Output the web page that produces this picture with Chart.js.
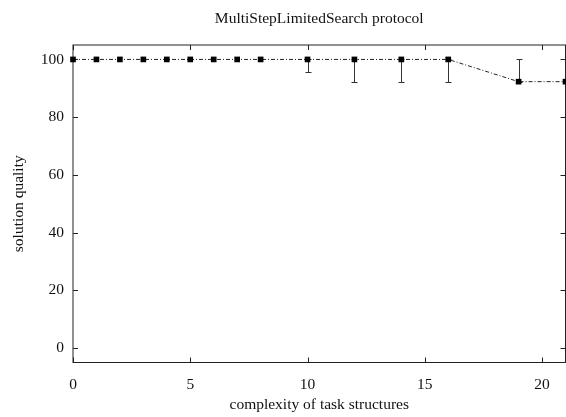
<!DOCTYPE html>
<html>
<head>
<meta charset="utf-8">
<script src="https://cdn.jsdelivr.net/npm/chart.js@4/dist/chart.umd.min.js"></script>
<style>
  html, body { margin: 0; padding: 0; background: #fff; }
  #wrap { width: 566px; height: 417px; }
</style>
</head>
<body>
<div id="wrap"><canvas id="c"></canvas></div>
<script>
// Solution quality vs. complexity of task structures
const complexity  = [0, 1, 2, 3, 4, 5, 6, 7, 8, 10, 12, 14, 16, 19, 21];
const quality     = [100, 100, 100, 100, 100, 100, 100, 100, 100, 100, 100, 100, 100, 92.3, 92.3];
const qualityLow  = [100, 100, 100, 100, 100, 100, 100, 100, 100, 95.5, 92.3, 92.3, 92.3, 92.3, null];
const qualityHigh = [100, 100, 100, 100, 100, 100, 100, 100, 100, 100, 100, 100, 100, 100, null];
const xTicks = [0, 5, 10, 15, 20];
const yTicks = [0, 20, 40, 60, 80, 100];
const chartTitle = 'MultiStepLimitedSearch protocol';

const INK = '#222';
const FONT = '"Liberation Serif", "Times New Roman", serif';
Chart.defaults.font.family = FONT;
Chart.defaults.font.size = 15.5;
Chart.defaults.color = '#111';

// Plot frame with inward ticks on all four sides, min/max error bars,
// and the title centred over the plot area
const framePlugin = {
  id: 'frame',
  beforeDatasetsDraw(chart) {
    const { ctx, chartArea: a, scales: { x, y } } = chart;
    ctx.save();
    ctx.strokeStyle = INK;
    ctx.lineWidth = 1;
    ctx.strokeRect(a.left, a.top, a.right - a.left, a.bottom - a.top);
    const len = 5;
    ctx.beginPath();
    xTicks.forEach(v => {
      const px = Math.round(x.getPixelForValue(v)) + 0.5;
      ctx.moveTo(px, a.bottom); ctx.lineTo(px, a.bottom - len);
      ctx.moveTo(px, a.top);    ctx.lineTo(px, a.top + len);
    });
    yTicks.forEach(v => {
      const py = Math.round(y.getPixelForValue(v)) + 0.5;
      ctx.moveTo(a.left, py);  ctx.lineTo(a.left + len, py);
      ctx.moveTo(a.right, py); ctx.lineTo(a.right - len, py);
    });
    ctx.stroke();

    // error bars
    ctx.strokeStyle = '#333';
    ctx.beginPath();
    complexity.forEach((c, i) => {
      const lo = qualityLow[i], hi = qualityHigh[i];
      if (lo == null || hi == null || lo === hi) return;
      const px = Math.round(x.getPixelForValue(c)) + 0.5;
      const pLo = Math.round(y.getPixelForValue(lo)) + 0.5;
      const pHi = Math.round(y.getPixelForValue(hi)) + 0.5;
      ctx.moveTo(px, pLo); ctx.lineTo(px, pHi);
      ctx.moveTo(px - 3, pLo); ctx.lineTo(px + 3, pLo);
      ctx.moveTo(px - 3, pHi); ctx.lineTo(px + 3, pHi);
    });
    ctx.stroke();

    // title
    ctx.fillStyle = '#111';
    ctx.font = '15.5px ' + FONT;
    ctx.textAlign = 'center';
    ctx.textBaseline = 'middle';
    ctx.fillText(chartTitle, (a.left + a.right) / 2, 19);
    ctx.restore();
  }
};

new Chart(document.getElementById('c'), {
  type: 'scatter',
  data: {
    datasets: [{
      data: complexity.map((c, i) => ({ x: c, y: quality[i] })),
      showLine: true,
      borderColor: INK,
      borderWidth: 1,
      borderDash: [4, 2, 1, 2],
      pointStyle: 'rect',
      pointRadius: 4,
      pointBackgroundColor: '#000',
      pointBorderColor: '#000',
      pointBorderWidth: 0,
      clip: false
    }]
  },
  options: {
    responsive: true,
    maintainAspectRatio: false,
    animation: false,
    devicePixelRatio: 1,
    layout: { autoPadding: false, padding: { left: 0, right: 0.5, top: 45, bottom: 0 } },
    plugins: {
      legend: { display: false },
      tooltip: { enabled: false },
      title: { display: false }
    },
    scales: {
      x: {
        type: 'linear',
        min: 0, max: 21,
        grid: { display: false, drawTicks: false },
        border: { display: false },
        afterBuildTicks: s => { s.ticks = xTicks.map(v => ({ value: v })); },
        afterFit: s => { s.height = 54.5; s.paddingLeft = 0; s.paddingRight = 0; },
        ticks: { padding: 13, maxRotation: 0 },
        title: { display: true, text: 'complexity of task structures', padding: { top: 0, bottom: 2.7 } }
      },
      y: {
        type: 'linear',
        min: -5, max: 105,
        grid: { display: false, drawTicks: false },
        border: { display: false },
        afterBuildTicks: s => { s.ticks = yTicks.map(v => ({ value: v })); },
        afterFit: s => { s.width = 73; s.paddingTop = 0; s.paddingBottom = 0; },
        ticks: { padding: 9 },
        title: { display: true, text: 'solution quality', padding: { top: 9.7, bottom: 0 } }
      }
    }
  },
  plugins: [framePlugin]
});
</script>
</body>
</html>
